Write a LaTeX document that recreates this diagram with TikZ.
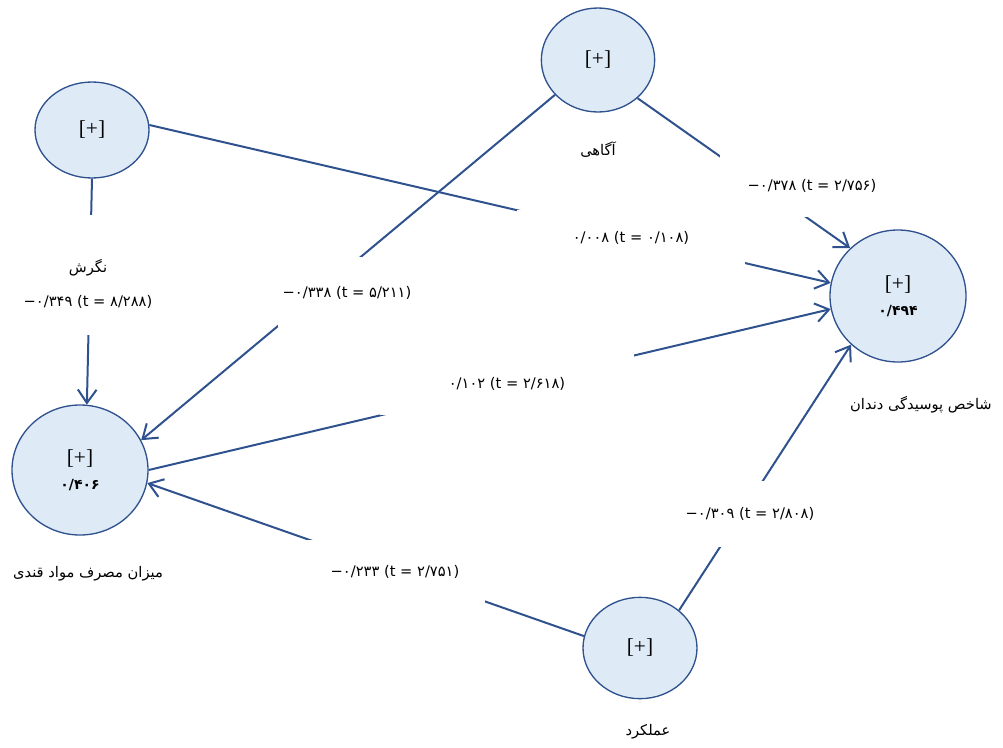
\documentclass[tikz,border=0pt]{standalone}
\usepackage{fontspec}
\setmainfont{Liberation Serif}
\newfontfamily\fafont[Script=Arabic]{DejaVu Sans}
\newfontfamily\numfont{DejaVu Sans}
\usetikzlibrary{arrows.meta,positioning,shapes.geometric}
\TeXXeTstate=1
\definecolor{PathBlue}{RGB}{47,82,143}
\definecolor{LatentFill}{RGB}{222,235,247}
\newcommand{\fa}[1]{{\fafont\beginR #1\endR}}
\newcommand{\rsqtext}[1]{{\numfont\bfseries\fontsize{10.5}{12}\selectfont #1}}
\tikzset{
  latent/.style = {ellipse, draw=PathBlue, fill=LatentFill, line width=1pt,
                   inner sep=0pt, align=center, font=\fontsize{16}{18}\selectfont},
  arr/.style    = {-{Straight Barb[length=10pt,width=14pt]}, line width=1.5pt, PathBlue},
  coef/.style   = {fill=white, inner sep=0pt, font=\numfont\fontsize{11}{13}\selectfont},
  vname/.style  = {font=\fontsize{11}{13}\selectfont}
}
\begin{document}
\begin{tikzpicture}[x=0.75pt, y=-0.75pt]
\useasboundingbox (0,0) rectangle (1003,747);

% latent variables
\node[latent, minimum width=85.5pt, minimum height=72pt] (att) at (92,130) {[+]};
\node[latent, minimum width=85pt, minimum height=78pt] (awr) at (598,60) {[+]};
\node[latent, minimum width=102pt, minimum height=99pt] (dmf) at (898,296)
     {[+]\\[1pt]\rsqtext{۰/۴۹۴}};
\node[latent, minimum width=102pt, minimum height=97.5pt] (sug) at (80,470)
     {[+]\\[1pt]\rsqtext{۰/۴۰۶}};
\node[latent, minimum width=85.5pt, minimum height=76pt] (prf) at (640,648) {[+]};

% paths
\draw[arr] (att.270) -- (sug.84);
\draw[arr] (awr.219) -- (sug.26);
\draw[arr] (awr.316) -- (dmf.135);
\draw[arr] (att.5)   -- (dmf.169);
\draw[arr] (sug.0)   -- (dmf.191);
\draw[arr] (prf.44)  -- (dmf.226);
\draw[arr] (prf.168) -- (sug.349);

% path coefficients
\node[coef, anchor=base, minimum width=105pt, text height=68pt, text depth=22pt]
     (c1) at (88,306) {−۰/۳۴۹ (t = ۸/۲۸۸)};
\node[coef, minimum width=104pt, minimum height=54pt] (c2) at (347,293) {−۰/۳۳۸ (t = ۵/۲۱۱)};
\node[coef, minimum width=138pt, minimum height=46pt] (c3) at (812,186) {−۰/۳۷۸ (t = ۲/۷۵۶)};
\node[coef, minimum width=171pt, minimum height=42pt] (c4) at (631,238) {۰/۰۰۸ (t = ۰/۱۰۸)};
\node[coef, minimum width=191pt, minimum height=46pt] (c5) at (507,384) {۰/۱۰۲ (t = ۲/۶۱۸)};
\node[coef, minimum width=105pt, minimum height=49pt] (c6) at (750,514) {−۰/۳۰۹ (t = ۲/۸۰۸)};
\node[coef, minimum width=135pt, minimum height=48pt] (c7) at (395,572) {−۰/۲۳۳ (t = ۲/۷۵۱)};

% variable names
\node[vname] (attN) at (88,268)  {\fa{نگرش}};
\node[vname] (awrN) at (598,150) {\fa{آگاهی}};
\node[vname] (dmfN) at (921,405) {\fa{شاخص پوسیدگی دندان}};
\node[vname] (sugN) at (88,574)  {\fa{میزان مصرف مواد قندی}};
\node[vname] (prfN) at (648,732) {\fa{عملکرد}};
\end{tikzpicture}
\end{document}
